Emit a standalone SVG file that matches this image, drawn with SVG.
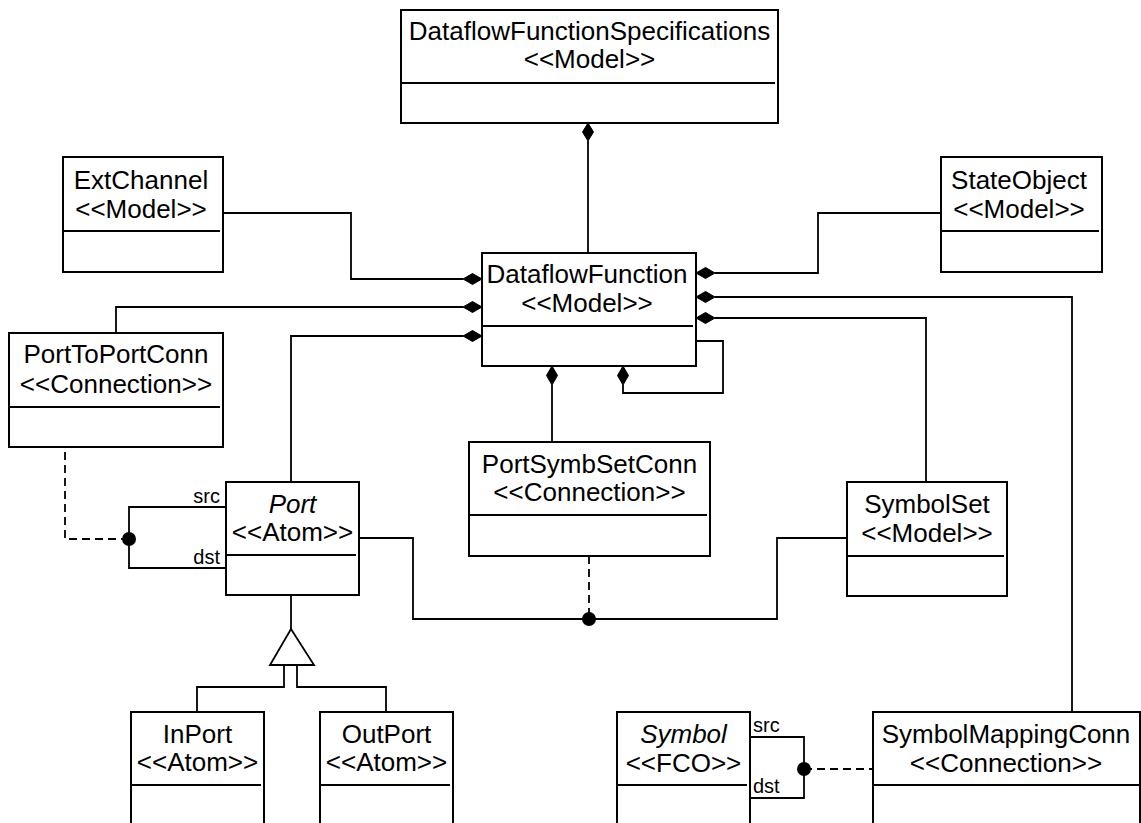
<svg xmlns="http://www.w3.org/2000/svg" width="1141" height="823" viewBox="0 0 1141 823">
<style>
.box{fill:#fff;stroke:#000;stroke-width:2}
.div{stroke:#000;stroke-width:2}
.t{font-family:"Liberation Sans",Arial,sans-serif;font-size:26px;text-anchor:middle;fill:#000}
.i{font-style:italic}
.lbl{font-family:"Liberation Sans",Arial,sans-serif;font-size:20px;fill:#000}
.c{fill:none;stroke:#000;stroke-width:1.8}
.d{fill:none;stroke:#000;stroke-width:1.8;stroke-dasharray:8,5}
.dia{fill:#000;stroke:#000;stroke-width:1}
.dot{fill:#000}
.tri{fill:#fff;stroke:#000;stroke-width:1.8}
</style>
<rect width="1141" height="823" fill="#fff"/>
<g id="connectors">
<path class="c" d="M588,141 V253"/>
<polygon class="dia" points="588,123 593.5,132 588,141 582.5,132"/>
<path class="c" d="M223,213 H351 V279 H463"/>
<polygon class="dia" points="463,279 472.5,273.5 482,279 472.5,284.5"/>
<path class="c" d="M116,333 V307 H463"/>
<polygon class="dia" points="463,307 472.5,301.5 482,307 472.5,312.5"/>
<path class="c" d="M291,482 V336 H463"/>
<polygon class="dia" points="463,336 472.5,330.5 482,336 472.5,341.5"/>
<path class="c" d="M941,213 H818 V273 H715"/>
<polygon class="dia" points="696,273 705.5,267.5 715,273 705.5,278.5"/>
<path class="c" d="M1072,712 V297 H715"/>
<polygon class="dia" points="696,297 705.5,291.5 715,297 705.5,302.5"/>
<path class="c" d="M926,482 V318 H715"/>
<polygon class="dia" points="696,318 705.5,312.5 715,318 705.5,323.5"/>
<path class="c" d="M696,341 H723 V393 H623 V385"/>
<polygon class="dia" points="623,366 628.5,375.5 623,385 617.5,375.5"/>
<path class="c" d="M552,442 V385"/>
<polygon class="dia" points="552,366 557.5,375.5 552,385 546.5,375.5"/>
<path class="c" d="M359,538 H413 V619 H777 V538 H847"/>
<path class="d" d="M589,556 V619"/>
<circle class="dot" cx="589" cy="619" r="7"/>
<path class="c" d="M226,507 H129 V568 H226"/>
<path class="d" d="M129,539 H65 V447"/>
<circle class="dot" cx="129" cy="539" r="7"/>
<path class="c" d="M291,595 V629"/>
<polygon class="tri" points="291,629 314,665 270,665"/>
<path class="c" d="M284,665 V687 H197 V712"/>
<path class="c" d="M297,665 V687 H386 V712"/>
<path class="c" d="M750,737 H804 V798 H750"/>
<path class="d" d="M804,769 H873"/>
<circle class="dot" cx="804" cy="769" r="7"/>
<text class="lbl" x="220" y="503" text-anchor="end">src</text>
<text class="lbl" x="220" y="564" text-anchor="end">dst</text>
<text class="lbl" x="753" y="732">src</text>
<text class="lbl" x="753" y="793">dst</text>
</g>
<g id="DataflowFunctionSpecifications">
<rect class="box" x="401" y="10" width="377" height="113"/>
<line class="div" x1="401" y1="83" x2="775" y2="83"/>
<text class="t" x="589.5" y="40">DataflowFunctionSpecifications</text>
<text class="t" x="589.5" y="68">&lt;&lt;Model&gt;&gt;</text>
</g>
<g id="ExtChannel">
<rect class="box" x="63" y="157" width="160" height="115"/>
<line class="div" x1="63" y1="231" x2="220" y2="231"/>
<text class="t" x="141" y="189">ExtChannel</text>
<text class="t" x="141" y="218">&lt;&lt;Model&gt;&gt;</text>
</g>
<g id="DataflowFunction">
<rect class="box" x="482" y="253" width="214" height="113"/>
<line class="div" x1="482" y1="326" x2="693" y2="326"/>
<text class="t" x="587" y="283">DataflowFunction</text>
<text class="t" x="587" y="312">&lt;&lt;Model&gt;&gt;</text>
</g>
<g id="StateObject">
<rect class="box" x="941" y="157" width="161" height="115"/>
<line class="div" x1="941" y1="231" x2="1099" y2="231"/>
<text class="t" x="1019" y="189">StateObject</text>
<text class="t" x="1019" y="218">&lt;&lt;Model&gt;&gt;</text>
</g>
<g id="PortToPortConn">
<rect class="box" x="9" y="333" width="214" height="114"/>
<line class="div" x1="9" y1="407" x2="220" y2="407"/>
<text class="t" x="116" y="363">PortToPortConn</text>
<text class="t" x="116" y="393">&lt;&lt;Connection&gt;&gt;</text>
</g>
<g id="Port">
<rect class="box" x="226" y="482" width="133" height="113"/>
<line class="div" x1="226" y1="555" x2="356" y2="555"/>
<text class="t i" x="292.5" y="513">Port</text>
<text class="t" x="292.5" y="541">&lt;&lt;Atom&gt;&gt;</text>
</g>
<g id="PortSymbSetConn">
<rect class="box" x="469" y="442" width="241" height="114"/>
<line class="div" x1="469" y1="515" x2="707" y2="515"/>
<text class="t" x="589.5" y="473">PortSymbSetConn</text>
<text class="t" x="589.5" y="501">&lt;&lt;Connection&gt;&gt;</text>
</g>
<g id="SymbolSet">
<rect class="box" x="847" y="482" width="160" height="114"/>
<line class="div" x1="847" y1="556" x2="1004" y2="556"/>
<text class="t" x="927" y="513">SymbolSet</text>
<text class="t" x="927" y="542">&lt;&lt;Model&gt;&gt;</text>
</g>
<g id="InPort">
<rect class="box" x="131" y="712" width="133" height="140"/>
<line class="div" x1="131" y1="785" x2="261" y2="785"/>
<text class="t" x="197.5" y="743">InPort</text>
<text class="t" x="197.5" y="771">&lt;&lt;Atom&gt;&gt;</text>
</g>
<g id="OutPort">
<rect class="box" x="320" y="712" width="133" height="140"/>
<line class="div" x1="320" y1="785" x2="450" y2="785"/>
<text class="t" x="386.5" y="743">OutPort</text>
<text class="t" x="386.5" y="771">&lt;&lt;Atom&gt;&gt;</text>
</g>
<g id="Symbol">
<rect class="box" x="617" y="712" width="133" height="140"/>
<line class="div" x1="617" y1="785" x2="747" y2="785"/>
<text class="t i" x="683.5" y="743">Symbol</text>
<text class="t" x="683.5" y="772">&lt;&lt;FCO&gt;&gt;</text>
</g>
<g id="SymbolMappingConn">
<rect class="box" x="873" y="712" width="267" height="140"/>
<line class="div" x1="873" y1="785" x2="1139" y2="785"/>
<text class="t" x="1006" y="743">SymbolMappingConn</text>
<text class="t" x="1006" y="772">&lt;&lt;Connection&gt;&gt;</text>
</g>
</svg>
